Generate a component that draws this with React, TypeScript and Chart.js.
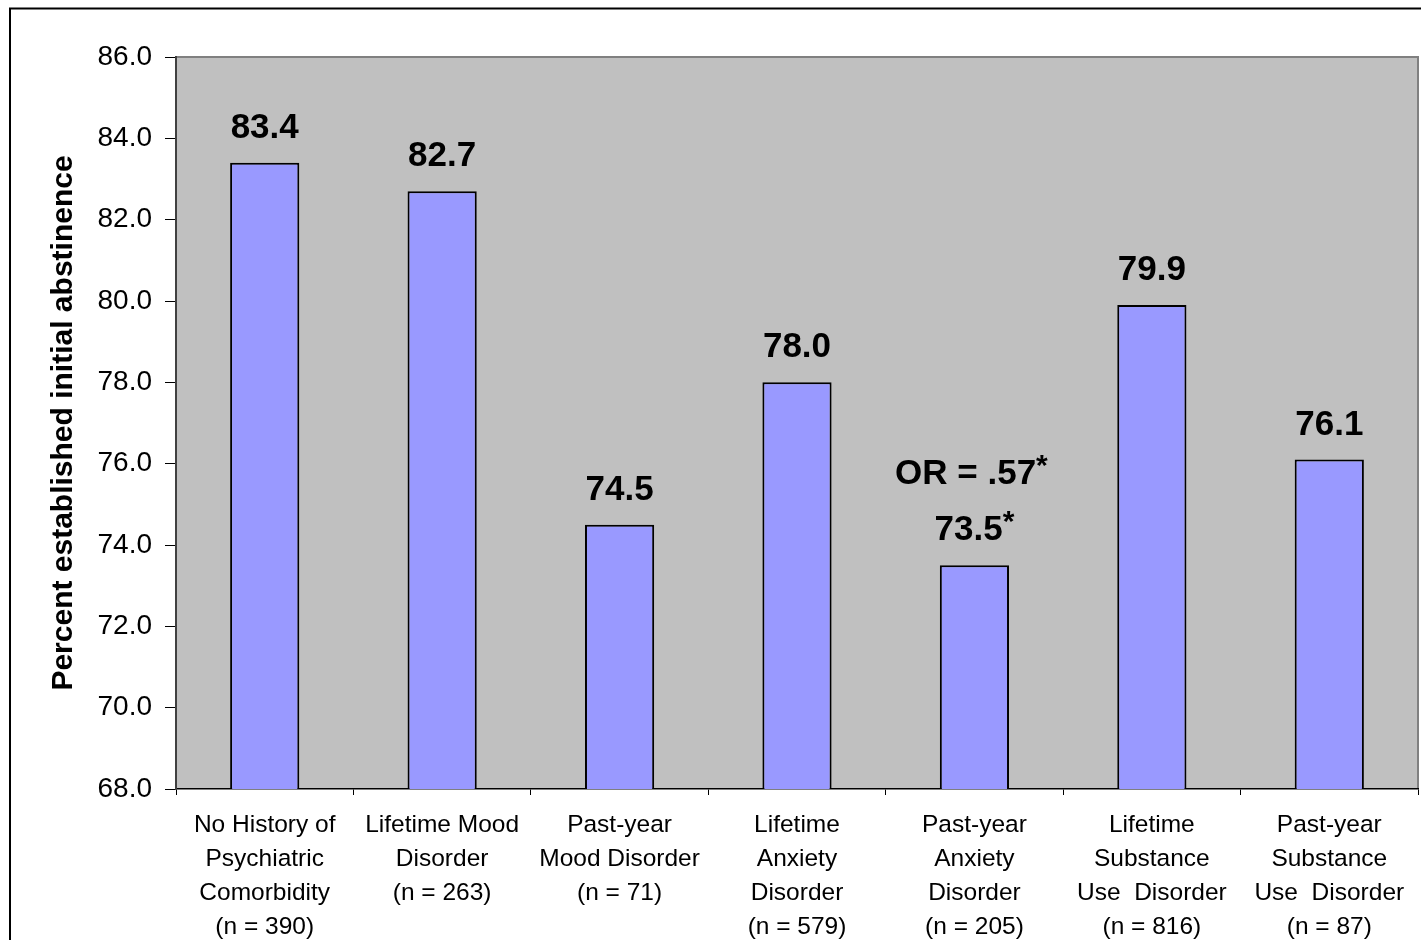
import React, { useEffect, useRef } from "react";
import { Chart, registerables } from "chart.js";

Chart.register(...registerables);

const categories: string[][] = [
  ["No History of", "Psychiatric", "Comorbidity", "(n = 390)"],
  ["Lifetime Mood", "Disorder", "(n = 263)"],
  ["Past-year", "Mood Disorder", "(n = 71)"],
  ["Lifetime", "Anxiety", "Disorder", "(n = 579)"],
  ["Past-year", "Anxiety", "Disorder", "(n = 205)"],
  ["Lifetime", "Substance", "Use  Disorder", "(n = 816)"],
  ["Past-year", "Substance", "Use  Disorder", "(n = 87)"],
];

const values: number[] = [83.4, 82.7, 74.5, 78.0, 73.5, 79.9, 76.1];
const significant: boolean[] = [false, false, false, false, true, false, false];
const oddsRatioNotes: string[] = ["", "", "", "", "OR = .57", "", ""];

const yMin = 68;
const yMax = 86;
const yStep = 2;
const yTitle = "Percent established initial abstinence";

const FONT = "'Liberation Sans', Arial, Helvetica, sans-serif";

const backgroundPlugin = {
  id: "bgFrame",
  beforeDraw(chart: any) {
    const { ctx, chartArea: a, width, height } = chart;
    ctx.save();
    ctx.fillStyle = "#ffffff";
    ctx.fillRect(0, 0, width, height);
    ctx.strokeStyle = "#000000";
    ctx.lineWidth = 2;
    ctx.beginPath();
    ctx.moveTo(10, height + 10);
    ctx.lineTo(10, 8.5);
    ctx.lineTo(width + 10, 8.5);
    ctx.stroke();
    ctx.fillStyle = "#C0C0C0";
    ctx.fillRect(a.left, a.top, a.right - a.left, a.bottom - a.top);
    ctx.strokeStyle = "#808080";
    ctx.lineWidth = 2;
    ctx.beginPath();
    ctx.moveTo(a.left, a.top);
    ctx.lineTo(a.right, a.top);
    ctx.lineTo(a.right, a.bottom);
    ctx.stroke();
    ctx.restore();
  },
};

const labelPlugin = {
  id: "valueLabels",
  afterDatasetsDraw(chart: any) {
    const { ctx } = chart;
    const meta = chart.getDatasetMeta(0);
    ctx.save();
    ctx.fillStyle = "#000000";
    ctx.textBaseline = "alphabetic";
    const mainFont = `bold 35px ${FONT}`;
    const starFont = `bold 30px ${FONT}`;
    const drawWithStar = (text: string, star: boolean, cx: number, by: number) => {
      ctx.font = mainFont;
      const w = ctx.measureText(text).width;
      let sw = 0;
      if (star) {
        ctx.font = starFont;
        sw = ctx.measureText("*").width;
      }
      const start = cx - (w + sw) / 2;
      ctx.textAlign = "left";
      ctx.font = mainFont;
      ctx.fillText(text, start, by);
      if (star) {
        ctx.font = starFont;
        ctx.fillText("*", start + w, by - 9);
      }
    };
    meta.data.forEach((bar: any, i: number) => {
      const baseY = bar.y - 25;
      drawWithStar(values[i].toFixed(1), significant[i], bar.x, baseY);
      if (oddsRatioNotes[i]) {
        drawWithStar(oddsRatioNotes[i], true, bar.x - 3, baseY - 56);
      }
    });
    ctx.restore();
  },
};

export default function App() {
  const canvasRef = useRef<HTMLCanvasElement | null>(null);

  useEffect(() => {
    if (!canvasRef.current) return;
    const chart = new Chart(canvasRef.current, {
      type: "bar",
      data: {
        labels: categories,
        datasets: [
          {
            data: values,
            backgroundColor: "#9999FF",
            borderColor: "#000000",
            borderWidth: 2,
            barPercentage: 0.39,
            categoryPercentage: 1,
          },
        ],
      },
      options: {
        responsive: false,
        animation: false,
        layout: { padding: { top: 57, right: 3, left: 0, bottom: 0 } },
        plugins: {
          legend: { display: false },
          tooltip: { enabled: false },
        },
        scales: {
          x: {
            afterFit: (scale: any) => {
              scale.height = 151;
            },
            grid: {
              drawOnChartArea: false,
              drawTicks: true,
              tickLength: 6,
              color: "#000000",
              offset: true,
            },
            border: { display: true, color: "#000000", width: 1.5 },
            ticks: {
              color: "#000000",
              font: { family: FONT, size: 24.5, lineHeight: 34 / 24.5 },
              padding: 13,
              maxRotation: 0,
              minRotation: 0,
              autoSkip: false,
            },
          },
          y: {
            min: yMin,
            max: yMax,
            afterFit: (scale: any) => {
              scale.width = 176;
            },
            grid: {
              drawOnChartArea: false,
              drawTicks: true,
              tickLength: 11,
              color: "#000000",
            },
            border: { display: true, color: "#404040", width: 2 },
            ticks: {
              stepSize: yStep,
              color: "#000000",
              font: { family: FONT, size: 28 },
              padding: 13,
              callback: (v: any) => Number(v).toFixed(1),
            },
            title: {
              display: true,
              text: yTitle,
              color: "#000000",
              font: { family: FONT, size: 30, weight: "bold" },
              padding: { top: 46, bottom: 0 },
            },
          },
        },
      },
      plugins: [backgroundPlugin, labelPlugin],
    });
    return () => chart.destroy();
  }, []);

  return (
    <div style={{ position: "absolute", left: 0, top: 0, width: 1421, height: 940 }}>
      <canvas ref={canvasRef} width={1421} height={940} style={{ width: 1421, height: 940, display: "block" }} />
    </div>
  );
}
